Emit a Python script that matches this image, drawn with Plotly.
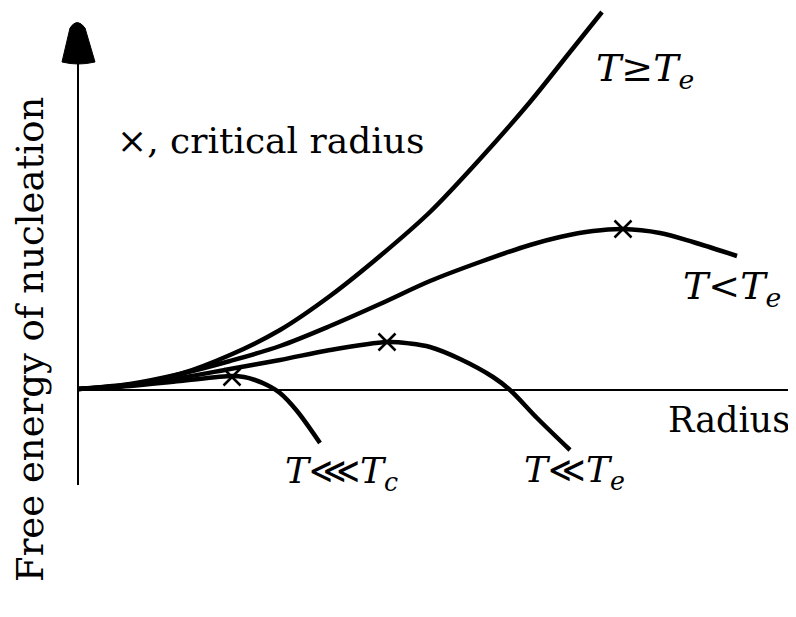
import plotly.graph_objects as go

# Data (radius r, free energy G), arbitrary units
r_ge = [0, 0.52, 1.02, 1.52, 2.02, 2.52, 3.02, 3.52, 4.02, 4.52, 4.92, 5.24]
g_ge = [0.01, 0.05, 0.16, 0.35, 0.60, 0.94, 1.34, 1.78, 2.31, 2.88, 3.38, 3.78]

r_lt = [0, 0.52, 1.02, 1.52, 2.02, 2.52, 3.02, 3.52, 4.02, 4.52, 4.82, 5.15, 5.45, 5.82, 6.15, 6.59]
g_lt = [0.01, 0.06, 0.16, 0.29, 0.44, 0.64, 0.86, 1.09, 1.28, 1.45, 1.53, 1.59, 1.61, 1.57, 1.48, 1.34]

r_ll = [0, 0.52, 1.02, 1.52, 2.02, 2.52, 3.09, 3.32, 3.52, 3.82, 4.15, 4.32, 4.59, 4.92]
g_ll = [0.01, 0.05, 0.12, 0.21, 0.30, 0.40, 0.48, 0.465, 0.43, 0.31, 0.13, 0.00, -0.28, -0.60]

r_lll = [0, 0.52, 1.02, 1.54, 1.66, 1.77, 1.89, 2.02, 2.19, 2.42]
g_lll = [0.01, 0.04, 0.09, 0.14, 0.13, 0.10, 0.05, -0.03, -0.21, -0.53]

r_crit = [1.54, 3.09, 5.45]
g_crit = [0.13, 0.48, 1.61]

FONT = "DejaVu Serif"

fig = go.Figure()
for xs, ys in [(r_ge, g_ge), (r_lt, g_lt), (r_ll, g_ll), (r_lll, g_lll)]:
    fig.add_trace(go.Scatter(x=xs, y=ys, mode="lines",
                             line=dict(color="black", width=4.5, shape="spline", smoothing=0.9),
                             hoverinfo="skip", showlegend=False))
fig.add_trace(go.Scatter(x=r_crit, y=g_crit, mode="markers",
                         marker=dict(symbol="x-thin", size=17, line=dict(color="black", width=2.5)),
                         showlegend=False, hoverinfo="skip"))

shapes = [
    dict(type="line", xref="x", yref="y", x0=0, x1=0, y0=-0.95, y1=3.35,
         line=dict(color="black", width=2)),
    dict(type="line", xref="x", yref="y", x0=0, x1=7.3, y0=0, y1=0,
         line=dict(color="black", width=2)),
    dict(type="path", xref="x", yref="y",
         path="M -0.16,3.28 Q 0.0,3.24 0.17,3.28 L 0.07,3.62 Q -0.01,3.73 -0.08,3.62 Z",
         fillcolor="black", line=dict(color="black", width=1)),
]

def ann(x, y, text, size, angle=0):
    return dict(x=x, y=y, xref="x", yref="y", text=text, showarrow=False,
                xanchor="center", yanchor="middle", textangle=angle,
                font=dict(family=FONT, size=size, color="black"))

annotations = [
    ann(5.67, 3.20, "<i>T</i>≥<i>T</i><sub><i>e</i></sub>", 38),
    ann(1.92, 2.50, "×, critical radius", 36),
    ann(6.54, 1.02, "<i>T</i>&lt;<i>T</i><sub><i>e</i></sub>", 38),
    ann(6.51, -0.30, "Radius", 35),
    ann(2.63, -0.83, "<i>T</i>⋘<i>T</i><sub><i>c</i></sub>", 36),
    ann(4.96, -0.82, "<i>T</i>≪<i>T</i><sub><i>e</i></sub>", 36),
    ann(-0.48, 0.50, "Free energy of nucleation", 37, angle=-90),
]

# the page adds an 8px body margin, so the figure is 8px smaller and ranges compensate
fig.update_layout(
    width=788, height=609,
    margin=dict(l=0, r=0, t=0, b=0),
    paper_bgcolor="white", plot_bgcolor="white",
    xaxis=dict(range=[-0.70, 7.18], visible=False, fixedrange=True),
    yaxis=dict(range=[-2.27, 3.82], visible=False, fixedrange=True),
    shapes=shapes, annotations=annotations,
)

fig.write_html("out.html")
